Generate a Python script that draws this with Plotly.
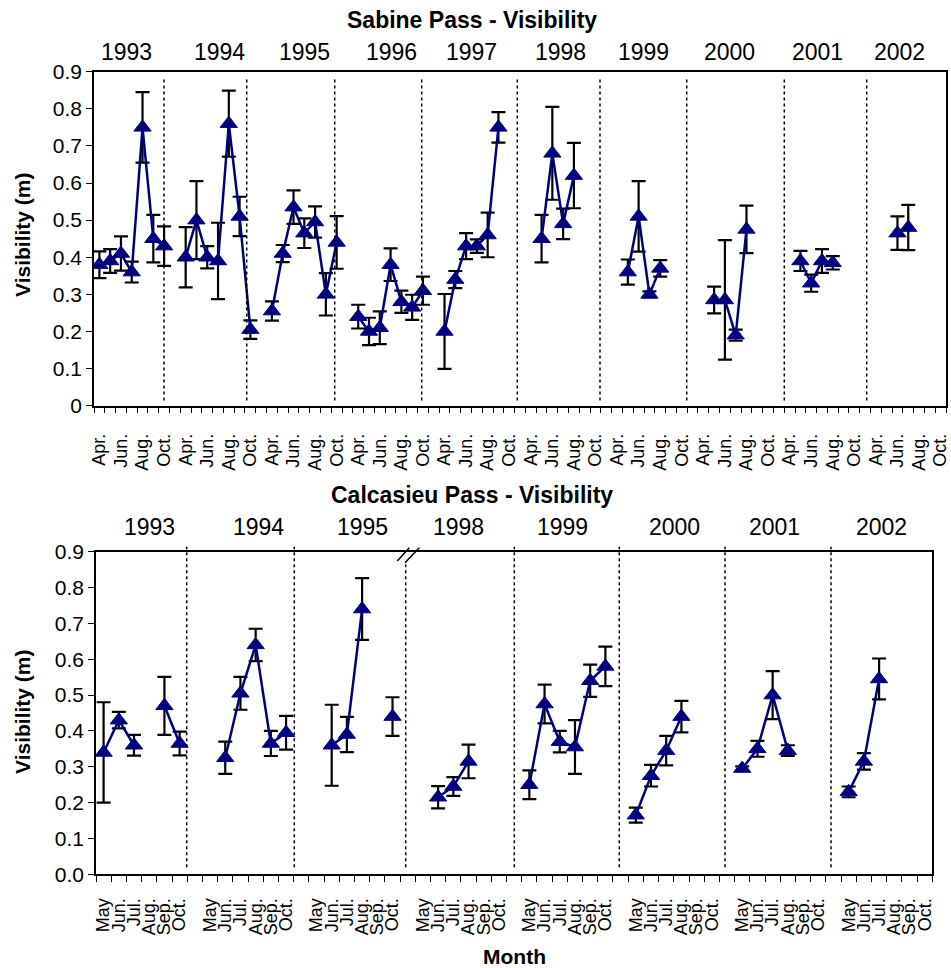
import plotly.graph_objects as go

# ---------------- data ----------------
# Sabine Pass: monthly mean visibility (m) and error, April-October
sabine_months = ["Apr.", "May", "Jun.", "Jul.", "Aug.", "Sep.", "Oct."]
sabine_years = ["1993", "1994", "1995", "1996", "1997", "1998", "1999", "2000", "2001", "2002"]
sabine_1993 = [0.38, 0.39, 0.41, 0.36, 0.75, 0.45, 0.43]
sabine_1994 = [0.40, 0.50, 0.40, 0.39, 0.76, 0.51, 0.205]
sabine_1995 = [0.255, 0.41, 0.535, 0.465, 0.495, 0.30, 0.44]
sabine_1996 = [0.24, 0.20, 0.21, 0.38, 0.28, 0.265, 0.31]
sabine_1997 = [0.20, 0.34, 0.43, 0.43, 0.46, 0.75, None]
sabine_1998 = [None, 0.45, 0.68, 0.49, 0.62, None, None]
sabine_1999 = [None, 0.36, 0.51, 0.30, 0.37, None, None]
sabine_2000 = [None, 0.285, 0.285, 0.19, 0.475, None, None]
sabine_2001 = [None, 0.39, 0.33, 0.39, 0.385, None, None]
sabine_2002 = [None, None, 0.465, 0.48, None, None, None]

sabine_err_1993 = [0.036, 0.032, 0.046, 0.028, 0.095, 0.064, 0.053]
sabine_err_1994 = [0.081, 0.105, 0.030, 0.103, 0.089, 0.053, 0.025]
sabine_err_1995 = [0.026, 0.023, 0.045, 0.040, 0.042, 0.057, 0.071]
sabine_err_1996 = [0.032, 0.037, 0.044, 0.044, 0.030, 0.034, 0.038]
sabine_err_1997 = [0.101, 0.023, 0.035, 0.018, 0.060, 0.041, None]
sabine_err_1998 = [None, 0.064, 0.125, 0.041, 0.088, None, None]
sabine_err_1999 = [None, 0.034, 0.095, 0.008, 0.022, None, None]
sabine_err_2000 = [None, 0.036, 0.161, 0.015, 0.064, None, None]
sabine_err_2001 = [None, 0.027, 0.023, 0.032, 0.018, None, None]
sabine_err_2002 = [None, None, 0.045, 0.061, None, None, None]

# Calcasieu Pass: monthly mean visibility (m) and error, May-October
calc_months = ["May", "Jun.", "Jul.", "Aug.", "Sep.", "Oct."]
calc_years = ["1993", "1994", "1995", "1998", "1999", "2000", "2001", "2002"]
calc_1993 = [0.34, 0.43, 0.36, None, 0.47, 0.365]
calc_1994 = [None, 0.325, 0.505, 0.64, 0.365, 0.395]
calc_1995 = [None, 0.36, 0.39, 0.74, None, 0.44]
calc_1998 = [None, 0.215, 0.245, 0.315, None, None]
calc_1999 = [0.25, 0.475, 0.37, 0.355, 0.54, 0.58]
calc_2000 = [0.165, 0.275, 0.345, 0.44, None, None]
calc_2001 = [0.295, 0.35, 0.50, 0.345, None, None]
calc_2002 = [0.23, 0.315, 0.545, None, None, None]

calc_err_1993 = [0.140, 0.023, 0.029, None, 0.081, 0.033]
calc_err_1994 = [None, 0.045, 0.046, 0.045, 0.035, 0.047]
calc_err_1995 = [None, 0.113, 0.049, 0.086, None, 0.054]
calc_err_1998 = [None, 0.031, 0.026, 0.047, None, None]
calc_err_1999 = [0.040, 0.054, 0.030, 0.075, 0.045, 0.055]
calc_err_2000 = [0.021, 0.030, 0.041, 0.044, None, None]
calc_err_2001 = [0.006, 0.022, 0.067, 0.015, None, None]
calc_err_2002 = [0.015, 0.023, 0.057, None, None, None]

# ---------------- layout constants (pixels) ----------------
W, H = 951, 968
FONT = "Liberation Sans, Arial, sans-serif"
NAVY = "#000080"

TOP_BOX = dict(left=94, right=946, top=71.7, bottom=405.7)
BOT_BOX = dict(left=96, right=932.3, top=551.7, bottom=874.3)

sabine_year_label_x = [126, 219.5, 304, 391, 471.5, 560, 643, 729, 817, 899]
calc_year_label_x = [149, 258, 362, 458, 562, 674, 774, 881]
sabine_divider_x = [164, 246.7, 334.7, 421.7, 517.3, 600, 686.7, 784.3, 866.7]
calc_divider_x = [186.7, 294.3, 405.7, 514.3, 619.3, 725, 831]


def px(x):
    return x / W


def py(y):
    return 1 - y / H


def join_years(rows):
    """Concatenate yearly rows, leaving one empty category between years."""
    out = []
    for i, row in enumerate(rows):
        out.extend(row)
        if i < len(rows) - 1:
            out.append(None)
    return out


def join_labels(months, n_years):
    out = []
    for i in range(n_years):
        out.extend(months)
        if i < n_years - 1:
            out.append("")
    return out


sab_y = join_years([sabine_1993, sabine_1994, sabine_1995, sabine_1996, sabine_1997,
                    sabine_1998, sabine_1999, sabine_2000, sabine_2001, sabine_2002])
sab_e = join_years([sabine_err_1993, sabine_err_1994, sabine_err_1995, sabine_err_1996,
                    sabine_err_1997, sabine_err_1998, sabine_err_1999, sabine_err_2000,
                    sabine_err_2001, sabine_err_2002])
sab_labels = join_labels(sabine_months, len(sabine_years))
sab_x = list(range(len(sab_labels)))

cal_y = join_years([calc_1993, calc_1994, calc_1995, calc_1998,
                    calc_1999, calc_2000, calc_2001, calc_2002])
cal_e = join_years([calc_err_1993, calc_err_1994, calc_err_1995, calc_err_1998,
                    calc_err_1999, calc_err_2000, calc_err_2001, calc_err_2002])
cal_labels = join_labels(calc_months, len(calc_years))
cal_x = list(range(len(cal_labels)))


def series(x, y, e, xa, ya):
    return go.Scatter(
        x=x, y=y, xaxis=xa, yaxis=ya, mode="lines+markers",
        line=dict(color=NAVY, width=2.5),
        marker=dict(symbol="triangle-up", size=15, color=NAVY,
                    line=dict(color=NAVY, width=1)),
        error_y=dict(type="data", array=[v if v is not None else 0 for v in e],
                     color="black", thickness=2.2, width=7),
        connectgaps=False, showlegend=False, hoverinfo="x+y",
    )


fig = go.Figure()
fig.add_trace(series(sab_x, sab_y, sab_e, "x", "y"))
fig.add_trace(series(cal_x, cal_y, cal_e, "x2", "y2"))

tick_font = dict(family=FONT, size=18, color="black")
axis_common = dict(showgrid=False, zeroline=False, showline=True, linecolor="black",
                   linewidth=1.5, mirror=True, automargin=False)

# Sabine x axis: label every other month, tick marks on category boundaries
sab_tickvals = [i for i in sab_x if i % 2 == 0]
fig.update_layout(
    xaxis=dict(domain=[px(TOP_BOX["left"]), px(TOP_BOX["right"])],
               range=[-0.5, len(sab_x) - 0.5], anchor="y",
               tickmode="array", tickvals=sab_tickvals,
               ticktext=[sab_labels[i] for i in sab_tickvals],
               tickangle=-90, ticks="", ticklabelstandoff=19, tickfont=tick_font,
               minor=dict(tickmode="linear", tick0=-0.5, dtick=1, ticks="outside",
                          ticklen=6, tickwidth=1.2, tickcolor="black", showgrid=False),
               **axis_common),
    yaxis=dict(domain=[py(TOP_BOX["bottom"]), py(TOP_BOX["top"])],
               range=[0, 0.9], anchor="x", tickmode="linear", tick0=0, dtick=0.1,
               ticks="outside", ticklen=6, tickwidth=1.2, tickcolor="black",
               tickfont=dict(family=FONT, size=21, color="black"),
               **axis_common),
    xaxis2=dict(domain=[px(BOT_BOX["left"]), px(BOT_BOX["right"])],
                range=[-0.5, len(cal_x) - 0.5], anchor="y2",
                tickmode="array", tickvals=cal_x, ticktext=cal_labels,
                tickangle=-90, ticks="", ticklabelstandoff=15, tickfont=tick_font,
                minor=dict(tickmode="linear", tick0=-0.5, dtick=1, ticks="outside",
                           ticklen=6, tickwidth=1.2, tickcolor="black", showgrid=False),
                **axis_common),
    yaxis2=dict(domain=[py(BOT_BOX["bottom"]), py(BOT_BOX["top"])],
                range=[0, 0.9], anchor="x2", tickmode="linear", tick0=0, dtick=0.1,
                tickformat=".1f",
                ticks="outside", ticklen=6, tickwidth=1.2, tickcolor="black",
                tickfont=dict(family=FONT, size=21, color="black"),
                **axis_common),
)

annotations = []
shapes = []


def label(text, x, y, size, angle=0):
    annotations.append(dict(text=text, x=px(x), y=py(y), xref="paper", yref="paper",
                            xanchor="center", yanchor="middle", showarrow=False,
                            textangle=angle,
                            font=dict(family=FONT, size=size, color="black")))


# panel titles
label("<b>Sabine Pass - Visibility</b>", 472, 20, 23)
label("<b>Calcasieu Pass - Visibility</b>", 472, 495, 23)

# axis titles
for yc in (235, 712):
    label("<b>Visibility (m)</b>", 22, yc, 21, angle=-90)
label("<b>Month</b>", 514, 956, 21)

# year labels above each panel
for yr, xc in zip(sabine_years, sabine_year_label_x):
    label(yr, xc, 52, 23)
for yr, xc in zip(calc_years, calc_year_label_x):
    label(yr, xc, 527, 23)

# dotted year dividers
div_line = dict(color="black", width=1.5, dash="dot")
for xd in sabine_divider_x:
    shapes.append(dict(type="line", xref="paper", yref="paper", x0=px(xd), x1=px(xd),
                       y0=py(400.5), y1=py(76.7), line=div_line))
for i, xd in enumerate(calc_divider_x):
    top = 562 if i == 2 else 546.7
    shapes.append(dict(type="line", xref="paper", yref="paper", x0=px(xd), x1=px(xd),
                       y0=py(867.3), y1=py(top), line=div_line))

# axis break mark between 1995 and 1998
for (xa, ya, xb, yb) in [(397.3, 561, 409.3, 547.7), (405, 562.7, 419.3, 547.7)]:
    shapes.append(dict(type="line", xref="paper", yref="paper", x0=px(xa), y0=py(ya),
                       x1=px(xb), y1=py(yb), line=dict(color="black", width=1.5)))

fig.update_layout(
    width=W, height=H, margin=dict(l=0, r=0, t=0, b=0, autoexpand=False),
    paper_bgcolor="white", plot_bgcolor="white",
    annotations=annotations, shapes=shapes,
    font=dict(family=FONT, color="black"),
)

fig.write_html("out.html")
